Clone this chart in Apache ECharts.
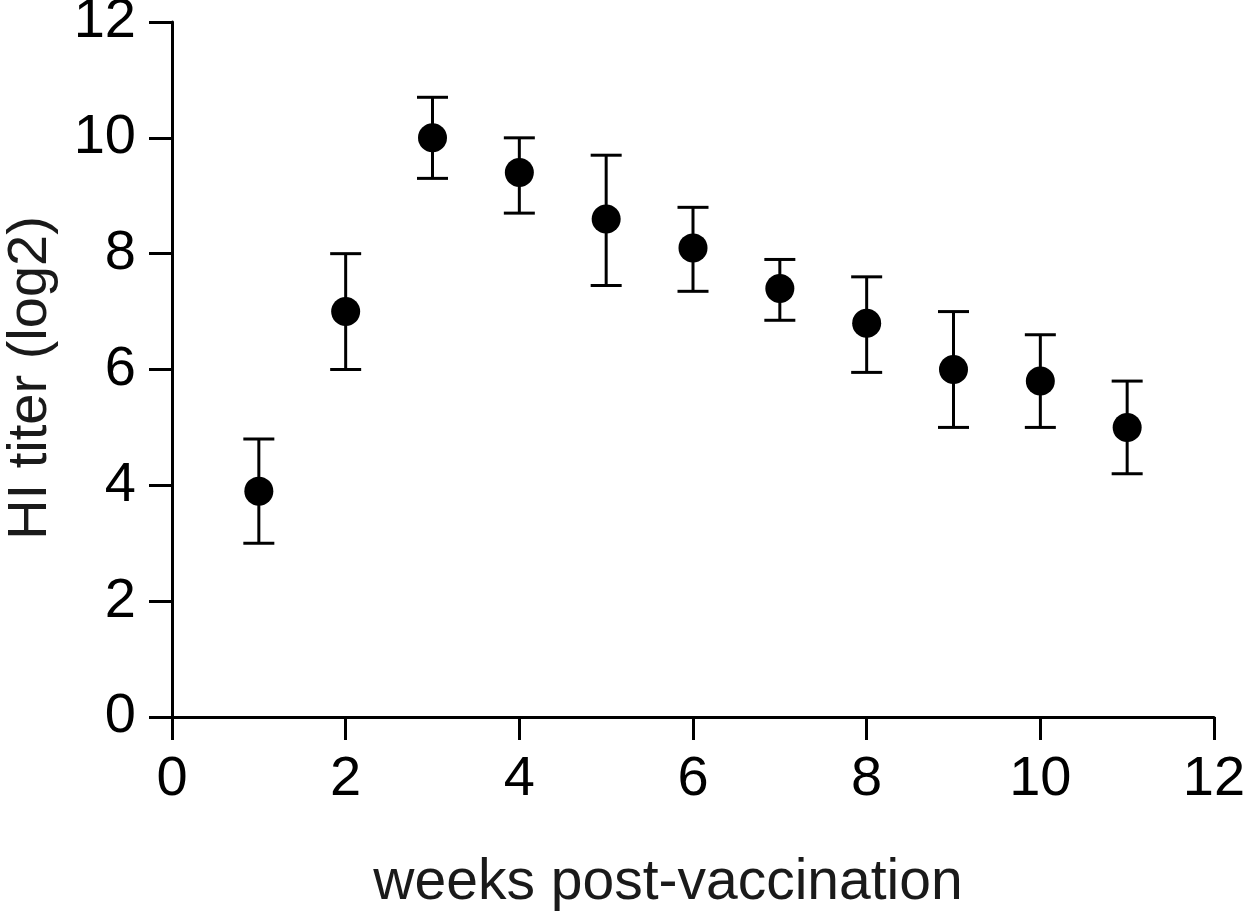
<!DOCTYPE html>
<html>
<head>
<meta charset="utf-8">
<script src="https://cdn.jsdelivr.net/npm/echarts@6/dist/echarts.min.js"></script>
<style>
html,body{margin:0;padding:0;background:#fff;}
#chart{width:1248px;height:922px;}
</style>
</head>
<body>
<div id="chart"></div>
<script>
// Data
var weeks = [1, 2, 3, 4, 5, 6, 7, 8, 9, 10, 11];
var meanTiter = [3.9, 7.0, 10.0, 9.4, 8.6, 8.1, 7.4, 6.8, 6.0, 5.8, 5.0];
var upperTiter = [4.8, 8.0, 10.7, 10.0, 9.7, 8.8, 7.9, 7.6, 7.0, 6.6, 5.8];
var lowerTiter = [3.0, 6.0, 9.3, 8.7, 7.45, 7.35, 6.85, 5.95, 5.0, 5.0, 4.2];
var xTitle = 'weeks post-vaccination';
var yTitle = 'HI titer (log2)';

var FONT = '"Liberation Sans", Arial, Helvetica, sans-serif';

var meanData = weeks.map(function (w, i) { return [w, meanTiter[i]]; });
var errData = weeks.map(function (w, i) { return [w, lowerTiter[i], upperTiter[i]]; });

var chart = echarts.init(document.getElementById('chart'), null, { renderer: 'canvas' });

var option = {
  backgroundColor: '#ffffff',
  animation: false,
  grid: { left: 172, right: 34, top: 22, bottom: 205, containLabel: false, outerBoundsMode: 'none' },
  xAxis: {
    type: 'value',
    min: 0, max: 12, interval: 2,
    axisLine: { show: true, onZero: false, lineStyle: { color: '#000', width: 3 } },
    axisTick: { show: true, inside: false, length: 23, lineStyle: { color: '#000', width: 3 } },
    axisLabel: { margin: 35, color: '#000', fontSize: 56, fontFamily: FONT },
    splitLine: { show: false }
  },
  yAxis: {
    type: 'value',
    min: 0, max: 12, interval: 2,
    axisLine: { show: true, onZero: false, lineStyle: { color: '#000', width: 3 } },
    axisTick: { show: true, inside: false, length: 23, lineStyle: { color: '#000', width: 3 } },
    axisLabel: { margin: 36, color: '#000', fontSize: 56, fontFamily: FONT, padding: [9, 0, 0, 0] },
    splitLine: { show: false }
  },
  graphic: [
    {
      type: 'text', x: 668, y: 883, z: 100,
      style: { text: xTitle, fill: '#1a1a1a', fontSize: 57, fontFamily: FONT, align: 'center', verticalAlign: 'middle' }
    },
    {
      type: 'text', x: 31, y: 378, rotation: Math.PI / 2, z: 100,
      style: { text: yTitle, fill: '#1a1a1a', fontSize: 56, fontFamily: FONT, align: 'center', verticalAlign: 'middle' }
    }
  ],
  series: [
    {
      type: 'custom',
      name: 'error',
      data: errData,
      encode: { x: 0, y: [1, 2] },
      z: 2,
      renderItem: function (params, api) {
        var x = api.value(0);
        var pLo = api.coord([x, api.value(1)]);
        var pHi = api.coord([x, api.value(2)]);
        var hw = 15.5;
        var st = { stroke: '#000', lineWidth: 3 };
        return {
          type: 'group',
          children: [
            { type: 'line', shape: { x1: pHi[0], y1: pHi[1], x2: pLo[0], y2: pLo[1] }, style: st },
            { type: 'line', shape: { x1: pHi[0] - hw, y1: pHi[1], x2: pHi[0] + hw, y2: pHi[1] }, style: st },
            { type: 'line', shape: { x1: pLo[0] - hw, y1: pLo[1], x2: pLo[0] + hw, y2: pLo[1] }, style: st }
          ]
        };
      }
    },
    {
      type: 'scatter',
      name: 'mean',
      data: meanData,
      symbol: 'circle',
      symbolSize: 29,
      z: 3,
      itemStyle: { color: '#000', opacity: 1 }
    }
  ]
};

chart.setOption(option);
</script>
</body>
</html>
